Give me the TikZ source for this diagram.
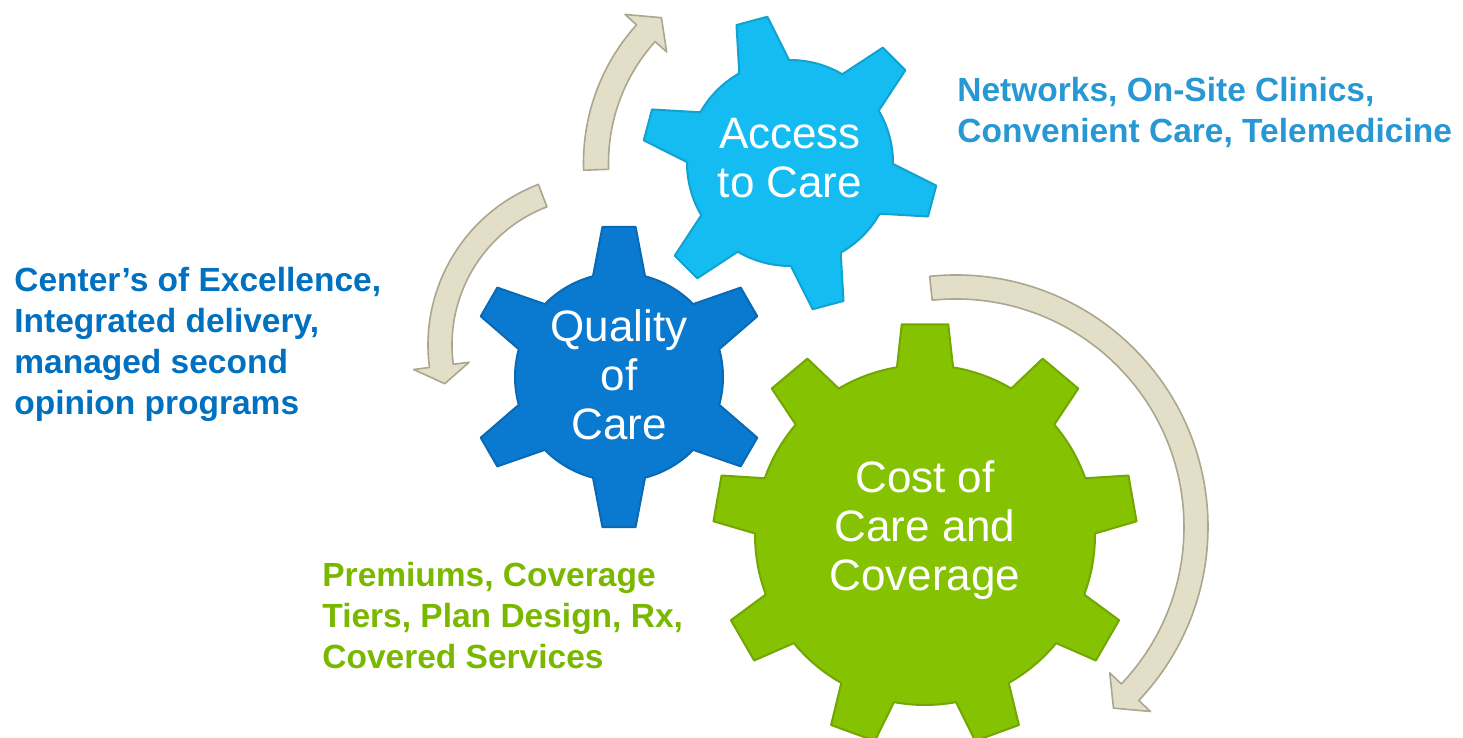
\documentclass[tikz,border=0pt]{standalone}
\usepackage{fontspec}
\setmainfont{Liberation Sans}

\definecolor{accessblue}{HTML}{14BCF2}
\definecolor{qualityblue}{HTML}{0A7AD0}
\definecolor{costgreen}{HTML}{84C202}
\definecolor{accesslabel}{HTML}{2898D4}
\definecolor{qualitylabel}{HTML}{0070C0}
\definecolor{costlabel}{HTML}{7AB800}
\definecolor{arrowfill}{HTML}{E2DEC8}
\definecolor{arrowedge}{HTML}{ABA68E}

\tikzset{
    cogtext/.style={text=white, align=center, inner sep=0pt, font=\fontsize{22}{24.5}\selectfont},
    sidelabel/.style={align=left, anchor=west, inner sep=0pt, font=\fontsize{16.75}{20.5}\selectfont\bfseries},
    arrowbody/.style={fill=arrowfill, draw=arrowedge, line width=0.8pt, line join=round}
}

% centre, teeth, body radius, tip radius, first tooth, base half-angle, tip half-angle, colour
\newcommand{\cog}[8]{%
    \begin{scope}[shift={#1}]
        \filldraw[fill=#8, draw=#8!86!black, line width=1pt, line join=round]
            (#5-#6:#3) \foreach \k [evaluate=\k as \a using #5+(\k-1)*360/#2] in {1,...,#2}{
                -- (\a-#6:#3) -- (\a-#7:#4) -- (\a+#7:#4) -- (\a+#6:#3)
                arc[start angle=\a+#6, end angle=\a+360/#2-#6, radius=#3]} -- cycle;
    \end{scope}}

% centre, radius, start angle, head base angle, tip angle, half shaft, half head
\newcommand{\bentarrow}[7]{%
    \begin{scope}[shift={#1}]
        \filldraw[arrowbody] (#3:#2+#6) arc[start angle=#3, end angle=#4, radius=#2+#6]
            -- (#4:#2+#7) -- (#5:#2) -- (#4:#2-#7) -- (#4:#2-#6)
            arc[start angle=#4, end angle=#3, radius=#2-#6] -- cycle;
    \end{scope}}

\begin{document}
\begin{tikzpicture}[x=0.5pt, y=0.5pt]
    \useasboundingbox (0,0) rectangle (1463,738);

    \cog{(790,575)}{6}{103}{148}{-15}{14.5}{6.2}{accessblue}
    \cog{(619,361)}{6}{104}{151}{30}{14.5}{6.3}{qualityblue}
    \cog{(925,203)}{9}{170}{212}{10}{9.5}{6.3}{costgreen}

    \bentarrow{(790,575)}{194}{182}{138}{131.5}{12.5}{28}
    \bentarrow{(600,393)}{160}{111}{187.5}{194}{12}{28}
    \bentarrow{(956,211)}{240}{96}{-43.5}{-49}{12}{28}

    \node[cogtext] (access) at (790,580) {Access\\to Care};
    \node[cogtext] (quality) at (619,363) {Quality\\of\\Care};
    \node[cogtext] (cost) at (925,208) {Cost of\\Care and\\Coverage};

    \node[sidelabel, text=accesslabel] (accessinfo) at (957,626)
        {Networks, On-Site Clinics,\\Convenient Care, Telemedicine};
    \node[sidelabel, text=qualitylabel] (qualityinfo) at (14,394)
        {Center’s of Excellence,\\Integrated delivery,\\managed second\\opinion programs};
    \node[sidelabel, text=costlabel] (costinfo) at (322,122)
        {Premiums, Coverage\\Tiers, Plan Design, Rx,\\Covered Services};
\end{tikzpicture}
\end{document}
